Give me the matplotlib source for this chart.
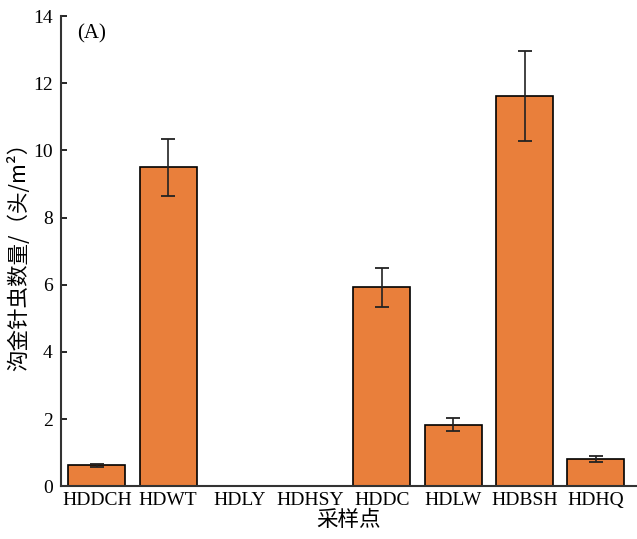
import numpy as np
import matplotlib
matplotlib.use("Agg")
import matplotlib.pyplot as plt

# sampling sites and wireworm counts (heads/m^2)
sites = ["HDDCH", "HDWT", "HDLY", "HDHSY", "HDDC", "HDLW", "HDBSH", "HDHQ"]
counts = [0.62, 9.50, 0.0, 0.0, 5.93, 1.83, 11.62, 0.80]
errors = [0.04, 0.85, 0.0, 0.0, 0.58, 0.19, 1.33, 0.09]

plt.rcParams['font.family'] = ['Liberation Serif', 'Noto Sans CJK SC', 'DejaVu Sans']
cjk = ['Noto Sans CJK SC', 'DejaVu Sans']

fig = plt.figure(figsize=(6.37, 5.39), dpi=100)
ax = fig.add_axes([0.096, 0.098, 0.902, 0.872])

x = np.arange(len(sites))
counts = np.array(counts)
errors = np.array(errors)
has_err = errors > 0

ax.bar(x, counts, width=0.8, color="#E97F3B", edgecolor="black", linewidth=1.2)
ax.errorbar(x[has_err], counts[has_err], yerr=errors[has_err], fmt="none",
            ecolor="#222222", elinewidth=1.2, capsize=5, capthick=1.3)

ax.set_xlim(-0.5, 7.56)
ax.set_ylim(0, 14)
ax.set_yticks(np.arange(0, 15, 2))
ax.set_xticks(x)
ax.set_xticklabels(sites)
ax.tick_params(axis="y", direction="in", length=4, width=1.2, labelsize=14, pad=6)
ax.tick_params(axis="x", length=0, labelsize=14, pad=4)

for s in ["top", "right"]:
    ax.spines[s].set_visible(False)
for s in ["left", "bottom"]:
    ax.spines[s].set_linewidth(1.5)
    ax.spines[s].set_color("#333333")

ax.text(0.028, 0.963, "(A)", transform=ax.transAxes, fontsize=15, ha="left", va="center")
ax.set_ylabel("沟金针虫数量/（头/m²）", fontsize=15.5, family=cjk, labelpad=2)
ax.set_xlabel("采样点", fontsize=15.5, family=cjk, labelpad=0)

fig.savefig("out.png", dpi=100)
